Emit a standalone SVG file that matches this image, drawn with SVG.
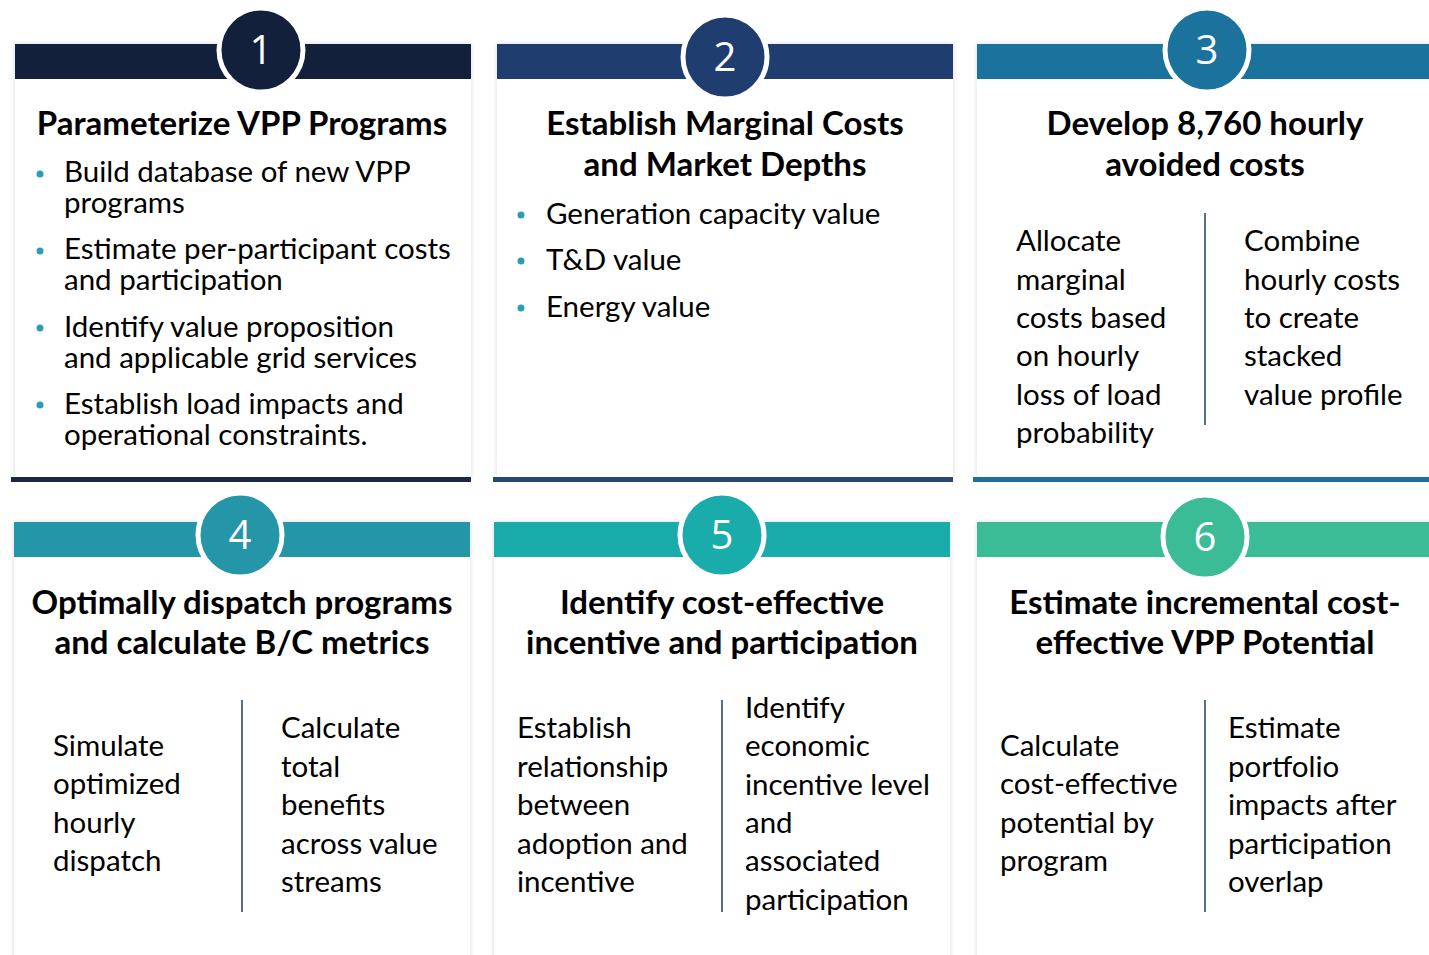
<svg xmlns="http://www.w3.org/2000/svg" width="1429" height="955" viewBox="0 0 1429 955">
<defs>
<filter id="sh" x="-5%" y="-5%" width="110%" height="110%">
<feDropShadow dx="0" dy="0" stdDeviation="2.5" flood-color="#8890a8" flood-opacity="0.35"/>
</filter>
<style>
.card{fill:#ffffff;filter:url(#sh);}
.num{font-family:"Open Sans","Liberation Sans",sans-serif;font-size:40px;fill:#ffffff;text-anchor:middle;}
.ttl{font-family:"Lato","Liberation Sans",sans-serif;font-weight:bold;font-size:33px;fill:#000;text-anchor:middle;}
.bd{font-family:"Lato","Liberation Sans",sans-serif;font-size:29.5px;fill:#000;}
.dot{fill:#2a9db5;}
.div{stroke:#1f3e6f;stroke-width:1.5;}
.ring{stroke:#ffffff;stroke-width:5;}
</style>
</defs>
<rect width="1429" height="955" fill="#ffffff"/>

<g id="card1">
<rect class="card" x="15" y="44" width="456" height="434"/>
<rect x="15" y="44" width="456" height="35" fill="#13203b"/>
<rect x="11" y="477" width="460" height="5" fill="#1c2741"/>
<circle class="ring" cx="261" cy="50" r="42" fill="#13203b"/>
<text class="num" x="261" y="64">1</text>
<text class="ttl" x="242" y="135">Parameterize VPP Programs</text>
<circle class="dot" cx="40" cy="174" r="3.5"/>
<circle class="dot" cx="40" cy="251" r="3.5"/>
<circle class="dot" cx="40" cy="328" r="3.5"/>
<circle class="dot" cx="40" cy="405" r="3.5"/>
<text class="bd" x="64" y="182">Build database of new VPP<tspan x="64" y="213">programs</tspan></text>
<text class="bd" x="64" y="259">Estimate per-participant costs<tspan x="64" y="290">and participation</tspan></text>
<text class="bd" x="64" y="337">Identify value proposition<tspan x="64" y="368">and applicable grid services</tspan></text>
<text class="bd" x="64" y="414">Establish load impacts and<tspan x="64" y="445">operational constraints.</tspan></text>
</g>

<g id="card2">
<rect class="card" x="497" y="44" width="456" height="434"/>
<rect x="497" y="44" width="456" height="35" fill="#1f3e6f"/>
<rect x="493" y="477" width="460" height="5" fill="#294677"/>
<circle class="ring" cx="725" cy="57" r="42" fill="#1f3e6f"/>
<text class="num" x="725" y="71">2</text>
<text class="ttl" x="725" y="135">Establish Marginal Costs</text>
<text class="ttl" x="725" y="176">and Market Depths</text>
<circle class="dot" cx="521" cy="215" r="3.5"/>
<circle class="dot" cx="521" cy="261" r="3.5"/>
<circle class="dot" cx="521" cy="308" r="3.5"/>
<text class="bd" x="546" y="224">Generation capacity value</text>
<text class="bd" x="546" y="270">T&amp;D value</text>
<text class="bd" x="546" y="317">Energy value</text>
</g>

<g id="card3">
<rect class="card" x="977" y="44" width="456" height="434"/>
<rect x="977" y="44" width="452" height="35" fill="#1b729d"/>
<rect x="973" y="477" width="456" height="5" fill="#1e6fa0"/>
<circle class="ring" cx="1207" cy="50" r="42" fill="#1b729d"/>
<text class="num" x="1207" y="64">3</text>
<text class="ttl" x="1205" y="135">Develop 8,760 hourly</text>
<text class="ttl" x="1205" y="176">avoided costs</text>
<line class="div" x1="1205" y1="213" x2="1205" y2="425"/>
<text class="bd" x="1016" y="251">Allocate</text>
<text class="bd" x="1016" y="290">marginal</text>
<text class="bd" x="1016" y="328">costs based</text>
<text class="bd" x="1016" y="366">on hourly</text>
<text class="bd" x="1016" y="405">loss of load</text>
<text class="bd" x="1016" y="443">probability</text>
<text class="bd" x="1244" y="251">Combine</text>
<text class="bd" x="1244" y="290">hourly costs</text>
<text class="bd" x="1244" y="328">to create</text>
<text class="bd" x="1244" y="366">stacked</text>
<text class="bd" x="1244" y="405">value profile</text>
</g>

<g id="card4">
<rect class="card" x="14" y="522" width="456" height="440"/>
<rect x="14" y="522" width="456" height="35" fill="#2496a8"/>
<circle class="ring" cx="240" cy="535" r="42" fill="#2496a8"/>
<text class="num" x="240" y="549">4</text>
<text class="ttl" x="242" y="614">Optimally dispatch programs</text>
<text class="ttl" x="242" y="654">and calculate B/C metrics</text>
<line class="div" x1="242" y1="700" x2="242" y2="912"/>
<text class="bd" x="53" y="756">Simulate</text>
<text class="bd" x="53" y="794">optimized</text>
<text class="bd" x="53" y="833">hourly</text>
<text class="bd" x="53" y="871">dispatch</text>
<text class="bd" x="281" y="738">Calculate</text>
<text class="bd" x="281" y="777">total</text>
<text class="bd" x="281" y="815">benefits</text>
<text class="bd" x="281" y="854">across value</text>
<text class="bd" x="281" y="892">streams</text>
</g>

<g id="card5">
<rect class="card" x="494" y="522" width="456" height="440"/>
<rect x="494" y="522" width="456" height="35" fill="#1aacab"/>
<circle class="ring" cx="722" cy="535" r="42" fill="#1aacab"/>
<text class="num" x="722" y="549">5</text>
<text class="ttl" x="722" y="614">Identify cost-effective</text>
<text class="ttl" x="722" y="654">incentive and participation</text>
<line class="div" x1="722" y1="700" x2="722" y2="912"/>
<text class="bd" x="517" y="738">Establish</text>
<text class="bd" x="517" y="777">relationship</text>
<text class="bd" x="517" y="815">between</text>
<text class="bd" x="517" y="854">adoption and</text>
<text class="bd" x="517" y="892">incentive</text>
<text class="bd" x="745" y="718">Identify</text>
<text class="bd" x="745" y="756">economic</text>
<text class="bd" x="745" y="795">incentive level</text>
<text class="bd" x="745" y="833">and</text>
<text class="bd" x="745" y="871">associated</text>
<text class="bd" x="745" y="910">participation</text>
</g>

<g id="card6">
<rect class="card" x="977" y="522" width="456" height="440"/>
<rect x="977" y="522" width="452" height="35" fill="#3bbb96"/>
<circle class="ring" cx="1205" cy="537" r="42" fill="#3bbb96"/>
<text class="num" x="1205" y="551">6</text>
<text class="ttl" x="1205" y="614">Estimate incremental cost-</text>
<text class="ttl" x="1205" y="654">effective VPP Potential</text>
<line class="div" x1="1205" y1="700" x2="1205" y2="912"/>
<text class="bd" x="1000" y="756">Calculate</text>
<text class="bd" x="1000" y="794">cost-effective</text>
<text class="bd" x="1000" y="833">potential by</text>
<text class="bd" x="1000" y="871">program</text>
<text class="bd" x="1228" y="738">Estimate</text>
<text class="bd" x="1228" y="777">portfolio</text>
<text class="bd" x="1228" y="815">impacts after</text>
<text class="bd" x="1228" y="854">participation</text>
<text class="bd" x="1228" y="892">overlap</text>
</g>

<g id="connectors"></g>
</svg>
